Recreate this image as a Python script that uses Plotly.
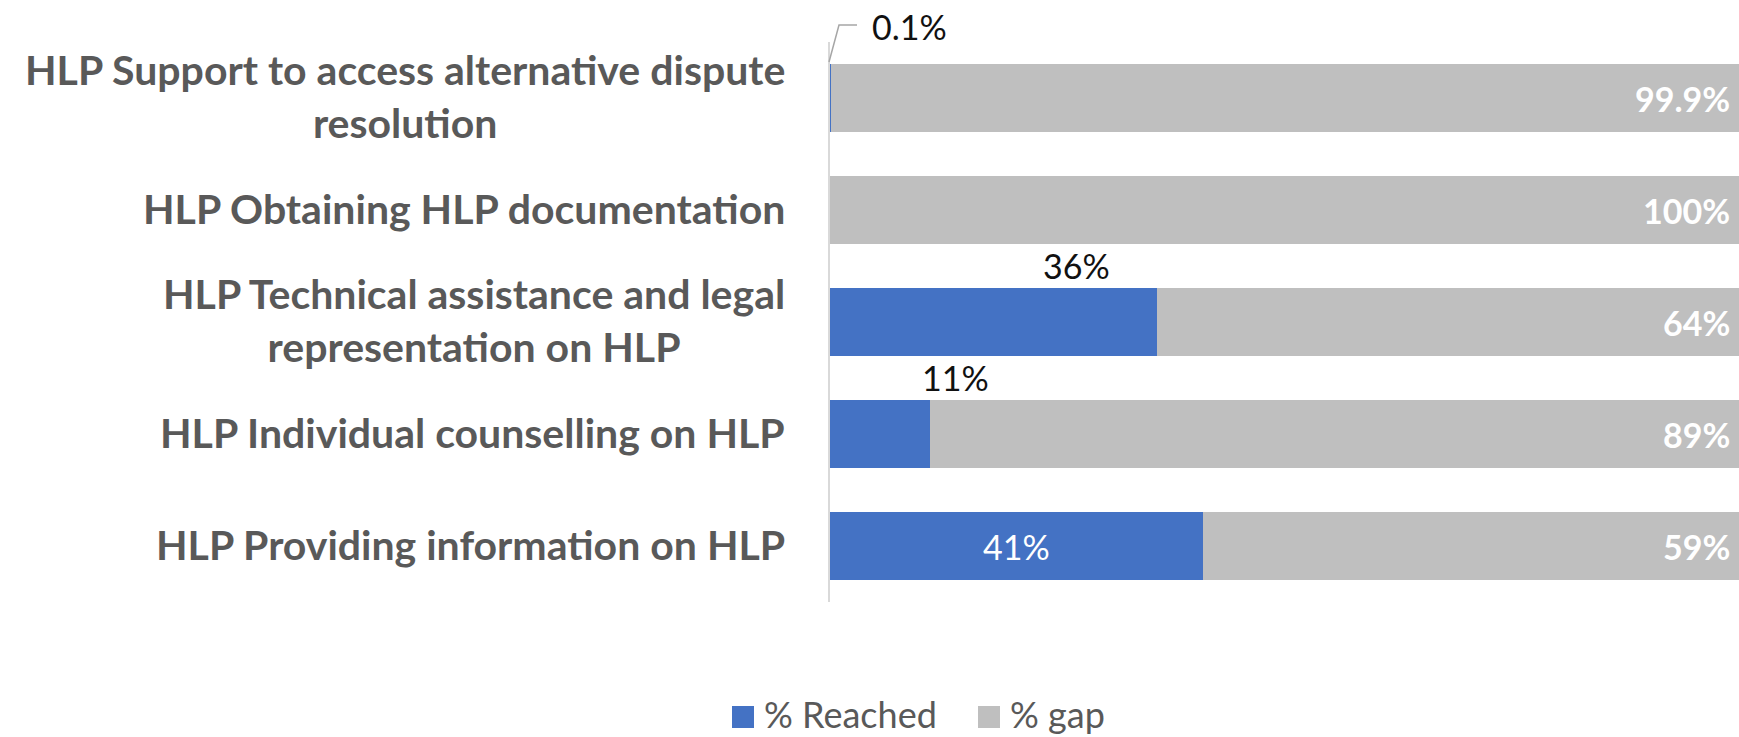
import plotly.graph_objects as go

categories = [
    "HLP Support to access alternative dispute<br>resolution",
    "HLP Obtaining HLP documentation",
    "HLP Technical assistance and legal<br>representation on HLP",
    "HLP Individual counselling on HLP",
    "HLP Providing information on HLP",
]
reached = [0.1, 0, 36, 11, 41]
gap = [99.9, 100, 64, 89, 59]
series_names = ["% Reached", "% gap"]

BLUE = "#4472C4"
GRAY = "#BFBFBF"
LABEL = "#595959"
FONT = "Lato"

W, H = 1739, 737
ML, MR, MT, MB = 830, 0, 42, 135
plot_w = W - ML - MR
plot_h = H - MT - MB


def fmt(v):
    return f"{v:g}%"


def px(xp, yp):
    """pixel position -> paper coordinates"""
    return (xp - ML) / plot_w, (MT + plot_h - yp) / plot_h


# label placement style per reached point
reached_pos = ["leader", "none", "above", "above", "inside"]
above_xshift = {2: -81, 3: 26}

fig = go.Figure()
fig.add_trace(go.Bar(
    name=series_names[0], y=categories, x=reached, orientation="h",
    marker=dict(color=BLUE, line=dict(width=0)),
    text=[fmt(v) if p == "inside" else "" for v, p in zip(reached, reached_pos)],
    textposition="inside", insidetextanchor="middle",
    textfont=dict(family=FONT, size=34, color="white"),
    hoverinfo="x+y", showlegend=False,
))
fig.add_trace(go.Bar(
    name=series_names[1], y=categories, x=gap, orientation="h",
    marker=dict(color=GRAY, line=dict(width=0)),
    textposition="none",
    hoverinfo="x+y", showlegend=False,
))

annotations = []
# category labels (centered multi-line, right-anchored)
for c in categories:
    annotations.append(dict(
        x=-43 / plot_w, xref="paper", y=c, yref="y", yshift=2,
        text=c, showarrow=False, xanchor="right", yanchor="middle",
        align="center", font=dict(family=FONT, size=41, color=LABEL, weight="bold"),
    ))
# gap labels, inside end
for c, r, g in zip(categories, reached, gap):
    annotations.append(dict(
        x=r + g, xref="x", y=c, yref="y", text=fmt(g), showarrow=False,
        xanchor="right", yanchor="middle", xshift=-7,
        font=dict(family=FONT, size=34, color="white", weight="bold"),
    ))
for i, (c, v, p) in enumerate(zip(categories, reached, reached_pos)):
    if p == "above":
        annotations.append(dict(
            x=v, xref="x", y=c, yref="y", text=fmt(v), showarrow=False,
            xanchor="center", yanchor="middle", xshift=above_xshift[i], yshift=57,
            font=dict(family=FONT, size=34, color="#111111"),
        ))
    elif p == "leader":
        lx, ly = px(870, 26)
        annotations.append(dict(
            x=lx, xref="paper", y=ly, yref="paper",
            text=fmt(v), showarrow=False, xanchor="left", yanchor="middle",
            font=dict(family=FONT, size=34, color="#111111"),
        ))

# leader line for the 0.1% label
p0, p1, p2 = px(829, 62), px(839, 25), px(857, 25)
shapes = [dict(
    type="path", xref="paper", yref="paper",
    path=f"M {p0[0]},{p0[1]} L {p1[0]},{p1[1]} L {p2[0]},{p2[1]}",
    line=dict(color="#A6A6A6", width=1.5),
)]

# custom legend (large square swatches)
legend_items = [(series_names[0], BLUE, 732), (series_names[1], GRAY, 978)]
for name, col, sx in legend_items:
    x0, y0 = px(sx, 728)
    x1, y1 = px(sx + 22, 706)
    shapes.append(dict(type="rect", xref="paper", yref="paper",
                       x0=x0, y0=y0, x1=x1, y1=y1,
                       fillcolor=col, line=dict(width=0)))
    tx, ty = px(sx + 30, 714)
    annotations.append(dict(
        x=tx, xref="paper", y=ty, yref="paper", text=name, showarrow=False,
        xanchor="left", yanchor="middle",
        font=dict(family=FONT, size=36, color=LABEL),
    ))

fig.update_layout(
    width=W, height=H,
    margin=dict(l=ML, r=MR, t=MT, b=MB, pad=0),
    barmode="stack", bargap=0.393,
    plot_bgcolor="white", paper_bgcolor="white",
    font=dict(family=FONT, color=LABEL),
    showlegend=False,
    xaxis=dict(range=[0, 100], showgrid=False, zeroline=False, showticklabels=False,
               showline=False, fixedrange=True),
    yaxis=dict(autorange="reversed", showticklabels=False, showgrid=False,
               showline=True, linecolor="#D9D9D9", linewidth=2, ticks="",
               zeroline=False, fixedrange=True),
    annotations=annotations, shapes=shapes,
)

fig.write_html("out.html", config={"displayModeBar": False},
               post_script="document.body.style.margin='0';")
